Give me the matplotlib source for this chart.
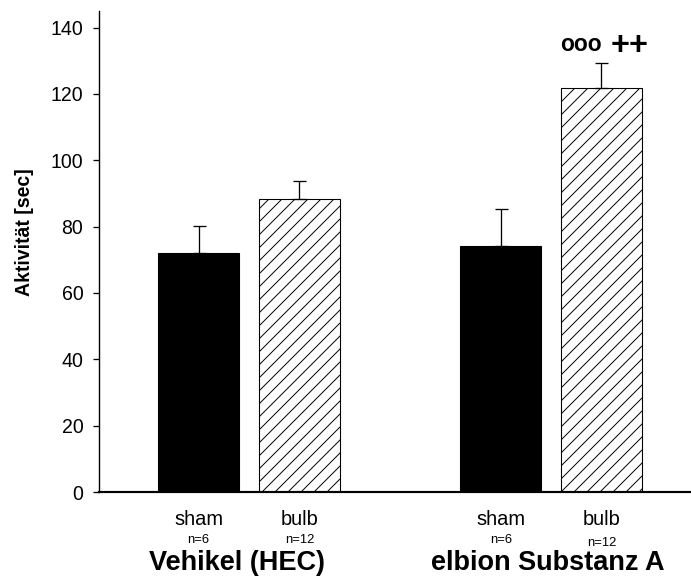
import matplotlib
matplotlib.use("Agg")
import matplotlib.pyplot as plt
from matplotlib.transforms import blended_transform_factory

categories = ["sham", "bulb", "sham", "bulb"]
n_labels = ["n=6", "n=12", "n=6", "n=12"]
groups = ["Vehikel (HEC)", "elbion Substanz A"]
values = [72.0, 88.4, 74.2, 121.9]
errors = [8.2, 5.5, 11.0, 7.3]
positions = [0, 1, 3, 4]
yticks = [0, 20, 40, 60, 80, 100, 120, 140]

DPI = 78
plt.rcParams['font.family'] = ['Liberation Sans', 'DejaVu Sans']
plt.rcParams['hatch.linewidth'] = 0.9

fig = plt.figure(figsize=(691 / DPI, 579 / DPI), dpi=DPI)
ax = fig.add_axes([99 / 691, 1 - 492 / 579, 591 / 691, 481 / 579])

for i, (p, v) in enumerate(zip(positions, values)):
    if i % 2 == 0:
        ax.bar(p, v, width=0.81, color='black', edgecolor='black', linewidth=1, zorder=2)
    else:
        ax.bar(p, v, width=0.81, color='white', edgecolor='black', linewidth=1,
               hatch='//', zorder=2)
ax.errorbar(positions, values, yerr=[[0] * 4, errors], fmt='none', ecolor='black',
            elinewidth=1.2, capsize=6, capthick=1.2, zorder=3)

ax.set_xlim(-0.99, 4.88)
ax.set_ylim(0, 145)
ax.set_yticks(yticks)
ax.set_xticks([])
ax.spines['top'].set_visible(False)
ax.spines['right'].set_visible(False)
ax.spines['left'].set_linewidth(1.3)
ax.spines['bottom'].set_linewidth(2)
ax.tick_params(axis='y', direction='out', length=5.5, width=1.2, pad=9, labelsize=18)

tr = blended_transform_factory(ax.transData, fig.transFigure)
for p, c in zip(positions, categories):
    ax.text(p, 1 - 525 / 579, c, transform=tr, ha='center', va='baseline', fontsize=18.5)
ax.text(positions[0], 1 - 543 / 579, n_labels[0], transform=tr, ha='center', va='baseline', fontsize=12)
ax.text(positions[1], 1 - 543 / 579, n_labels[1], transform=tr, ha='center', va='baseline', fontsize=12)
ax.text(positions[2], 1 - 543 / 579, n_labels[2], transform=tr, ha='center', va='baseline', fontsize=12)
ax.text(positions[3], 1 - 546 / 579, n_labels[3], transform=tr, ha='center', va='baseline', fontsize=12)
ax.text(0.38, 1 - 570 / 579, groups[0], transform=tr, ha='center', va='baseline',
        fontsize=25, fontweight='bold')
ax.text(3.47, 1 - 570 / 579, groups[1], transform=tr, ha='center', va='baseline',
        fontsize=25, fontweight='bold')

ax.text(3.80, 133.0, "ooo", ha='center', va='baseline', fontsize=21, fontweight='bold')
ax.text(4.28, 131.6, "++", ha='center', va='baseline', fontsize=30, fontweight='heavy')

fig.text(25 / 691, 1 - 232 / 579, "Aktivität [sec]", rotation=90, ha='center', va='center',
         fontsize=18, fontweight='bold')

fig.savefig("out.png", dpi=DPI)
